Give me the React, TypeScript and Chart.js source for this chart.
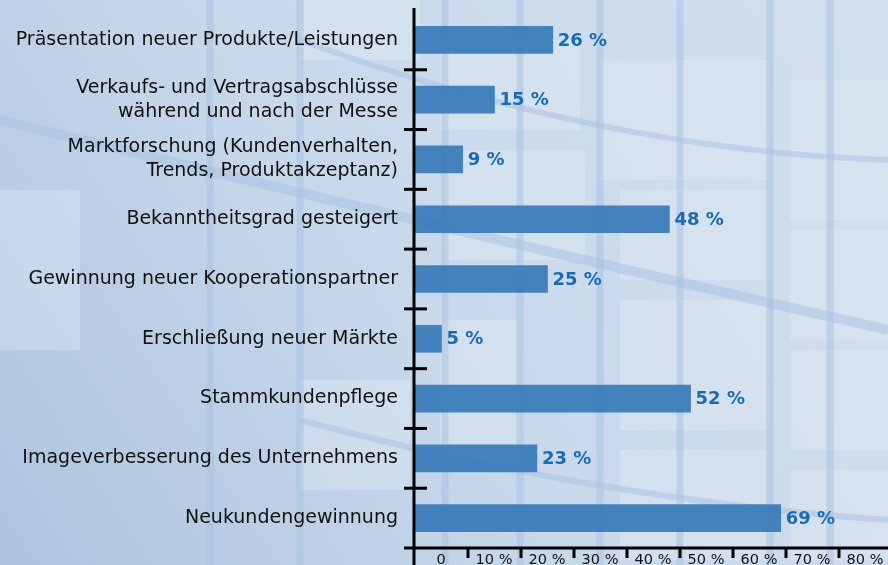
import React, { useEffect, useRef } from "react";
import { Chart, registerables } from "chart.js";

Chart.register(...registerables);

const categories: (string | string[])[] = [
  "Präsentation neuer Produkte/Leistungen",
  ["Verkaufs- und Vertragsabschlüsse", "während und nach der Messe"],
  ["Marktforschung (Kundenverhalten,", "Trends, Produktakzeptanz)"],
  "Bekanntheitsgrad gesteigert",
  "Gewinnung neuer Kooperationspartner",
  "Erschließung neuer Märkte",
  "Stammkundenpflege",
  "Imageverbesserung des Unternehmens",
  "Neukundengewinnung",
];

const values: number[] = [26, 15, 9, 48, 25, 5, 52, 23, 69];

const xTickValues: number[] = [0, 10, 20, 30, 40, 50, 60, 70, 80];
const xTickLabels: string[] = ["0", "10 %", "20 %", "30 %", "40 %", "50 %", "60 %", "70 %", "80 %"];

const FONT = "'DejaVu Sans', 'Liberation Sans', Arial, sans-serif";

const backgroundPlugin = {
  id: "bgPlugin",
  beforeDraw(chart: any) {
    const { ctx, width, height } = chart;
    ctx.save();
    const g = ctx.createLinearGradient(width, 0, 0, height);
    g.addColorStop(0, "#d3dfee");
    g.addColorStop(0.55, "#c8d8eb");
    g.addColorStop(1, "#adc3de");
    ctx.fillStyle = g;
    ctx.fillRect(0, 0, width, height);

    // faint window panes (decoration)
    ctx.fillStyle = "rgba(230,238,247,0.35)";
    const panes = [
      [300, 0, 120, 60], [440, 40, 140, 90], [600, 60, 170, 120], [790, 80, 100, 140],
      [445, 150, 140, 110], [620, 190, 150, 90], [790, 230, 100, 110],
      [620, 300, 150, 130], [790, 350, 100, 100], [440, 320, 80, 140],
      [0, 190, 80, 160], [300, 380, 110, 110], [790, 470, 100, 90], [620, 450, 150, 110],
    ];
    panes.forEach(([x, y, w, h]) => ctx.fillRect(x, y, w, h));

    ctx.strokeStyle = "rgba(170,195,225,0.55)";
    ctx.lineWidth = 7;
    [210, 300, 445, 520, 600, 680, 770, 830].forEach((x) => {
      ctx.beginPath();
      ctx.moveTo(x, 0);
      ctx.lineTo(x, height);
      ctx.stroke();
    });
    ctx.lineWidth = 10;
    ctx.beginPath();
    ctx.moveTo(0, 120);
    ctx.quadraticCurveTo(450, 230, 888, 330);
    ctx.stroke();
    ctx.lineWidth = 6;
    ctx.beginPath();
    ctx.moveTo(300, 40);
    ctx.quadraticCurveTo(600, 150, 888, 160);
    ctx.stroke();
    ctx.beginPath();
    ctx.moveTo(300, 420);
    ctx.quadraticCurveTo(600, 500, 888, 520);
    ctx.stroke();
    ctx.restore();
  },
};

const axesPlugin = {
  id: "axesPlugin",
  afterDatasetsDraw(chart: any) {
    const { ctx, chartArea, scales } = chart;
    const xs = scales.x;
    const ys = scales.y;
    ctx.save();
    ctx.strokeStyle = "#000";
    ctx.lineWidth = 3;
    ctx.lineCap = "butt";
    const ax = chartArea.left - 1;
    const ay = chartArea.bottom;
    // y axis line
    ctx.beginPath();
    ctx.moveTo(ax, 8);
    ctx.lineTo(ax, chart.height);
    ctx.stroke();
    // x axis line
    ctx.beginPath();
    ctx.moveTo(ax - 10, ay);
    ctx.lineTo(chart.width, ay);
    ctx.stroke();
    // y ticks at category boundaries (crossing the axis)
    for (let i = 1; i < categories.length; i++) {
      const y = (ys.getPixelForValue(i - 1) + ys.getPixelForValue(i)) / 2;
      ctx.beginPath();
      ctx.moveTo(ax - 10, y);
      ctx.lineTo(ax + 13, y);
      ctx.stroke();
    }
    // x ticks
    xTickValues.forEach((v) => {
      if (v === 0) return;
      const x = xs.getPixelForValue(v);
      ctx.beginPath();
      ctx.moveTo(x, ay);
      ctx.lineTo(x, ay + 10);
      ctx.stroke();
    });

    // value labels
    const meta = chart.getDatasetMeta(0);
    ctx.fillStyle = "#1a6cb2";
    ctx.font = `bold 18px ${FONT}`;
    ctx.textAlign = "left";
    ctx.textBaseline = "middle";
    meta.data.forEach((bar: any, i: number) => {
      ctx.fillText(`${values[i]} %`, bar.x + 5, bar.y + 1);
    });
    ctx.restore();
  },
};

export default function App() {
  const ref = useRef<HTMLCanvasElement | null>(null);

  useEffect(() => {
    document.body.style.margin = "0";
    const canvas = ref.current;
    if (!canvas) return;
    const chart = new Chart(canvas, {
      type: "bar",
      data: {
        labels: categories,
        datasets: [
          {
            data: values,
            backgroundColor: "rgba(52,120,184,0.9)",
            borderWidth: 0,
            barThickness: 27,
          },
        ],
      },
      options: {
        indexAxis: "y",
        animation: false,
        responsive: false,
        devicePixelRatio: 1,
        layout: { padding: { top: 10, right: 49, left: 0, bottom: 0 } },
        plugins: {
          legend: { display: false },
          tooltip: { enabled: false },
          title: { display: false },
        },
        scales: {
          x: {
            type: "linear",
            min: 0,
            max: 80,
            grid: { display: false, drawTicks: false },
            border: { display: false },
            afterFit: (scale: any) => {
              scale.height = 32;
              scale.paddingLeft = 0;
              scale.paddingRight = 0;
            },
            afterBuildTicks: (scale: any) => {
              scale.ticks = xTickValues.map((v) => ({ value: v }));
            },
            ticks: {
              autoSkip: false,
              maxRotation: 0,
              minRotation: 0,
              labelOffset: 26,
              padding: 4,
              color: "#111",
              font: { family: FONT, size: 14.5 },
              callback: (v: any) => xTickLabels[xTickValues.indexOf(Number(v))] ?? "",
            },
          },
          y: {
            type: "category",
            offset: true,
            grid: { display: false, drawTicks: false },
            border: { display: false },
            afterFit: (scale: any) => {
              scale.width = 415;
              scale.paddingTop = 0;
              scale.paddingBottom = 0;
            },
            ticks: {
              padding: 17,
              color: "#111",
              autoSkip: false,
              font: { family: FONT, size: 19, lineHeight: 1.26 },
            },
          },
        },
      },
      plugins: [backgroundPlugin, axesPlugin],
    });
    return () => chart.destroy();
  }, []);

  return (
    <div style={{ width: 888, height: 565, overflow: "hidden", position: "relative" }}>
      <canvas ref={ref} width={888} height={580} style={{ display: "block" }} />
    </div>
  );
}
